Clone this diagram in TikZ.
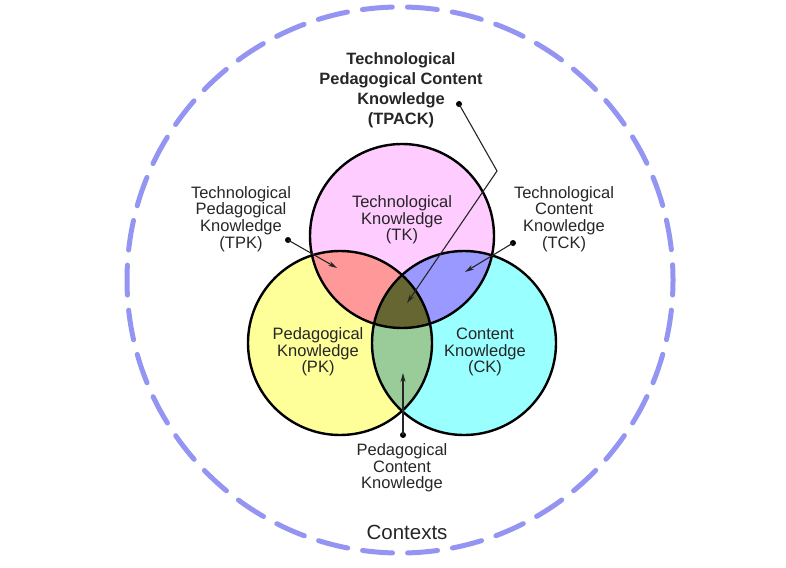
\documentclass[tikz,border=0pt]{standalone}
\usepackage{fontspec}
\setmainfont{Liberation Sans}
\usetikzlibrary{positioning,arrows.meta}
\definecolor{vennPink}{HTML}{FFCCFF}
\definecolor{vennYellow}{HTML}{FFFF99}
\definecolor{vennCyan}{HTML}{99FFFF}
\definecolor{vennSalmon}{HTML}{FF9999}
\definecolor{vennBlue}{HTML}{9999FF}
\definecolor{vennGreen}{HTML}{99CC99}
\definecolor{vennOlive}{HTML}{666633}
\definecolor{ctxBlue}{HTML}{9494F2}

\begin{document}
\begin{tikzpicture}[
  x=1pt, y=-1pt,
  every node/.style={align=center, inner sep=0pt},
  lbl/.style={font=\fontsize{16.5}{16.6}\selectfont, text=black!85},
  title/.style={font=\fontsize{16.4}{20}\selectfont\bfseries, text=black!85},
  ring/.style={line width=2.4pt, draw=black},
  ctx/.style={draw=ctxBlue, line width=5pt, line cap=round,
    dash pattern=on 30pt off 15.14pt, dash phase=15pt},
  dot/.style={circle, fill=black, minimum size=6pt},
  lead/.style={-{Stealth[length=9pt, width=5pt]}, line width=1.1pt, draw=black!85}
]
\useasboundingbox (0,0) rectangle (786,567);

% outer context ring
\draw[ctx] (400,280) circle (273);

% circle centres
\coordinate (tk) at (402,236);
\coordinate (pk) at (340,343);
\coordinate (ck) at (464,343);

% single regions
\fill[vennYellow] (pk) circle (92);
\fill[vennCyan]   (ck) circle (92);
\fill[vennPink]   (tk) circle (92);

% pairwise overlaps
\begin{scope}
  \clip (tk) circle (92);
  \fill[vennSalmon] (pk) circle (92);
  \fill[vennBlue]   (ck) circle (92);
\end{scope}
\begin{scope}
  \clip (pk) circle (92);
  \fill[vennGreen] (ck) circle (92);
\end{scope}
% centre overlap
\begin{scope}
  \clip (tk) circle (92);
  \clip (pk) circle (92);
  \fill[vennOlive] (ck) circle (92);
\end{scope}

\draw[ring] (pk) circle (92);
\draw[ring] (ck) circle (92);
\draw[ring] (tk) circle (92);

% labels
\node[lbl] (tkLbl) at (402,220) {Technological\\Knowledge\\(TK)};
\node[lbl] (pkLbl) at (318,352) {Pedagogical\\Knowledge\\(PK)};
\node[lbl] (ckLbl) at (485,352) {Content\\Knowledge\\(CK)};
\node[lbl] (tpkLbl) at (241,219) {Technological\\Pedagogical\\Knowledge\\(TPK)};
\node[lbl] (tckLbl) at (564,219) {Technological\\Content\\Knowledge\\(TCK)};
\node[lbl] (pckLbl) at (402,468) {Pedagogical\\Content\\Knowledge};
\node[title] (tpackLbl) at (401,90) {Technological\\Pedagogical Content\\Knowledge\\(TPACK)};
\node[font=\fontsize{20.5}{22}\selectfont, text=black!85] (ctxLbl) at (407,532) {Contexts};

% leader dots and targets
\node[dot] (tpackDot) at (459,104) {};
\node[dot] (tpkDot) at (288,240) {};
\node[dot] (tckDot) at (513,243) {};
\node[dot] (pckDot) at (403,435) {};
\coordinate (tpackBend) at (497,171);
\coordinate (tpackTip) at (407,303);
\coordinate (tpkTip) at (337,268);
\coordinate (tckTip) at (465,272);
\coordinate (pckTip) at (403,373);

\draw[lead] (tpackDot.center) -- (tpackBend) -- (tpackTip);
\draw[lead] (tpkDot.center) -- (tpkTip);
\draw[lead] (tckDot.center) -- (tckTip);
\draw[lead] (pckDot.center) -- (pckTip);

\end{tikzpicture}
\end{document}
